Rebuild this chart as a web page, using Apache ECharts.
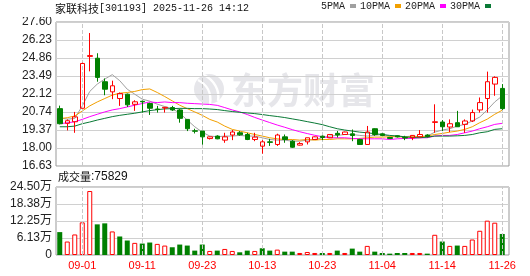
<!DOCTYPE html>
<html><head><meta charset="utf-8">
<script src="https://cdn.jsdelivr.net/npm/echarts@6/dist/echarts.min.js"></script>
<style>html,body{margin:0;padding:0;background:#fff}#c{width:530px;height:276px}</style>
</head><body><div id="c"></div>
<script>
const stockName = '家联科技';
const stockCode = '301193';
const stamp = '2025-11-26 14:12';
const lastVolText = '75829';

const dates = ['08-27','08-28','08-29','09-01','09-02','09-03','09-04','09-05','09-08','09-09','09-10','09-11',
 '09-12','09-15','09-16','09-17','09-18','09-19','09-22','09-23','09-24','09-25','09-26','09-29',
 '09-30','10-09','10-10','10-13','10-14','10-15','10-16','10-17','10-20','10-21','10-22','10-23',
 '10-24','10-27','10-28','10-29','10-30','10-31','11-03','11-04','11-05','11-06','11-07','11-10',
 '11-11','11-12','11-13','11-14','11-17','11-18','11-19','11-20','11-21','11-24','11-25','11-26'];

const opens = [21.00,19.88,20.00,21.03,24.98,24.84,23.05,22.28,21.77,22.10,21.33,21.56,
 21.39,20.97,21.05,21.08,20.90,20.18,19.31,19.29,18.72,18.91,18.60,18.99,
 19.16,19.03,18.65,18.14,18.47,18.27,18.85,18.52,18.22,18.47,18.65,18.90,
 18.78,19.12,19.03,19.08,18.65,18.27,19.47,19.08,18.80,18.93,18.80,18.78,
 18.85,18.99,19.95,19.98,19.60,19.93,19.80,20.06,20.90,21.77,22.87,22.54];
const closes = [19.85,20.08,20.37,24.44,25.04,23.38,22.48,22.74,22.15,21.29,21.52,21.52,
 21.03,20.93,21.10,20.90,20.26,19.47,19.28,18.85,18.85,18.70,18.85,19.22,
 19.01,18.65,18.83,18.47,18.43,18.99,18.65,18.06,18.34,18.78,18.85,18.80,
 19.03,19.00,19.22,18.95,18.27,19.22,19.03,18.95,18.73,18.85,18.76,18.96,
 19.03,18.87,20.00,19.62,19.85,19.62,20.06,20.70,21.46,23.05,23.38,21.00];
const lows = [19.80,19.34,19.16,21.03,23.84,23.05,22.02,21.72,21.21,21.13,20.83,20.70,
 20.52,20.70,20.70,20.83,19.93,19.29,19.11,18.26,18.65,18.67,18.40,18.60,
 18.93,18.60,18.52,17.57,18.16,18.16,18.40,18.01,18.19,18.27,18.65,18.60,
 18.75,18.80,19.00,18.52,18.25,18.25,18.93,18.90,18.68,18.80,18.60,18.60,
 18.83,18.80,19.16,19.29,19.21,19.62,19.16,19.98,20.70,20.70,21.98,20.90];
const highs = [21.23,20.18,20.75,24.50,26.76,25.22,23.30,23.13,22.23,22.15,21.64,21.62,
 21.46,21.21,21.13,21.21,21.00,20.18,19.47,19.29,18.87,18.97,19.16,19.37,
 19.29,19.16,19.16,18.60,18.70,19.09,19.03,18.60,18.45,18.78,18.88,18.95,
 19.05,19.30,19.25,19.41,18.70,19.68,19.50,19.12,18.85,18.96,18.93,18.98,
 19.37,19.05,21.33,20.13,20.18,20.83,20.18,20.93,21.85,23.82,23.46,22.87];

const ma5 = [20.30,20.20,20.25,21.20,22.31,22.87,23.25,23.59,23.13,22.48,22.10,21.72,
 21.57,21.34,21.16,21.00,20.65,20.13,19.62,19.21,18.91,18.86,18.91,18.91,
 18.96,18.91,18.91,18.78,18.65,18.60,18.60,18.52,18.52,18.60,18.65,18.78,
 18.91,18.96,19.03,19.03,18.96,18.91,18.96,19.03,18.91,18.91,18.86,18.91,
 18.86,18.91,19.21,19.37,19.47,19.67,19.80,20.06,20.36,20.90,21.51,21.97];
const ma10 = [20.24,20.31,20.44,20.82,21.21,21.51,21.77,22.03,22.18,22.23,22.31,22.45,
 22.50,22.23,21.92,21.59,21.26,21.00,20.75,20.49,20.18,19.98,19.67,19.42,
 19.29,19.16,19.03,18.91,18.78,18.70,18.65,18.65,18.60,18.65,18.60,18.65,
 18.65,18.70,18.70,18.70,18.73,18.78,18.83,18.83,18.86,18.86,18.83,18.86,
 18.86,18.91,19.03,19.11,19.21,19.29,19.42,19.62,19.93,20.20,20.57,20.88];
const ma20 = [19.85,19.92,20.00,20.18,20.39,20.57,20.75,20.90,21.00,21.13,21.26,21.39,
 21.51,21.46,21.51,21.46,21.46,21.41,21.38,21.35,21.32,21.25,21.08,20.90,
 20.75,20.55,20.33,20.13,19.94,19.75,19.58,19.40,19.24,19.10,18.97,18.86,
 18.78,18.78,18.78,18.73,18.70,18.70,18.70,18.70,18.65,18.70,18.73,18.73,
 18.78,18.78,18.91,18.96,18.96,19.03,19.16,19.29,19.47,19.62,19.80,19.88];
const ma30 = [19.62,19.62,19.67,19.85,19.98,20.13,20.26,20.39,20.49,20.57,20.65,20.75,
 20.85,20.92,20.98,21.00,21.02,21.02,21.00,21.00,20.97,20.93,20.85,20.78,
 20.72,20.67,20.62,20.55,20.47,20.40,20.32,20.22,20.12,20.01,19.90,19.78,
 19.62,19.47,19.37,19.29,19.21,19.16,19.09,19.03,18.96,18.91,18.86,18.80,
 18.78,18.83,18.91,18.91,18.91,18.93,18.96,19.03,19.16,19.24,19.42,19.47];

// volume in 万
const volumes = [8.25,4.85,7.40,11.77,23.05,11.04,11.40,8.49,6.67,5.22,4.37,4.12,
 4.49,4.00,3.40,2.79,3.76,3.40,1.58,3.76,1.46,1.58,2.18,1.46,
 0.97,1.58,1.46,2.43,1.58,1.94,1.21,1.21,0.73,1.09,0.73,0.73,
 0.73,1.58,0.73,2.30,1.21,3.28,1.21,0.73,0.49,0.73,0.73,0.73,
 0.73,0.49,7.28,4.85,3.28,3.40,3.28,5.58,8.73,12.37,11.64,7.58];
const volDir = [-1,1,1,1,1,-1,-1,1,-1,-1,1,-1,
 -1,1,1,-1,-1,-1,-1,-1,1,-1,1,1,
 -1,-1,1,-1,-1,1,-1,-1,1,1,1,-1,
 1,-1,1,-1,-1,1,-1,-1,-1,-1,-1,1,
 1,-1,1,-1,1,-1,1,1,1,1,1,-1];

const priceTicks = ['16.63','18.00','19.37','20.74','22.12','23.49','24.86','26.23','27.60'];
const priceMin = 16.63, priceMax = 27.60;
const volTicks = ['0','6.13万','12.25万','18.38万','24.50万'];
const volMax = 24.5;
const labelDates = ['09-01','09-11','09-23','10-13','10-23','11-04','11-14','11-26'];
const maNames = ['5PMA','10PMA','20PMA','30PMA'];

const RED = '#ff0000', GREEN = '#008000';
const SANS = "'Liberation Sans','Noto Sans CJK SC',sans-serif";
const MONO = "'Liberation Mono','Noto Sans CJK SC',monospace";
const CJK = "'Noto Sans CJK SC',sans-serif";

const chart = echarts.init(document.getElementById('c'), null, {renderer: 'canvas'});

const dashLines = {
  silent: true, symbol: ['none','none'], label: {show: false},
  lineStyle: {type: 'dashed', color: '#c8c8c8', width: 1},
  emphasis: {disabled: true},
  data: labelDates.map(d => ({xAxis: d}))
};

const maColors = ['#a0a0a0', '#f2a000', '#ff00ff', '#0a7a36'];
const maData = [ma5, ma10, ma20, ma30];

const option = {
  animation: false,
  backgroundColor: '#fff',
  legend: {
    left: 321, top: 1, align: 'right', icon: 'rect', itemWidth: 6, itemHeight: 4, itemGap: 4,
    padding: 0, selectedMode: false,
    textStyle: {fontSize: 10, fontFamily: MONO, color: '#222'},
    data: maNames
  },
  grid: [
    {left: 56, top: 22, width: 453, height: 144, show: true, borderColor: '#999', borderWidth: 1},
    {left: 56, top: 22, width: 450, height: 144},
    {left: 56, top: 187, width: 453, height: 68, show: true, borderColor: '#999', borderWidth: 1},
    {left: 56, top: 187, width: 450, height: 68}
  ],
  xAxis: [
    {gridIndex: 0, type: 'value', min: 0, max: 1, show: false},
    {gridIndex: 1, type: 'category', data: dates, boundaryGap: true,
      axisLine: {show: false}, axisTick: {show: false}, axisLabel: {show: false}, splitLine: {show: false}},
    {gridIndex: 2, type: 'value', min: 0, max: 1, show: false},
    {gridIndex: 3, type: 'category', data: dates, boundaryGap: true,
      axisLine: {show: false}, axisTick: {show: false}, splitLine: {show: false},
      axisLabel: {show: true, interval: (i, v) => labelDates.indexOf(v) >= 0, color: RED,
        fontSize: 11, fontFamily: SANS, margin: 5, hideOverlap: false}}
  ],
  yAxis: [
    {gridIndex: 0, type: 'value', min: 0, max: priceTicks.length - 1, interval: 1,
      axisLine: {show: false}, axisTick: {show: false},
      axisLabel: {formatter: v => priceTicks[Math.round(v)], color: '#222', fontSize: 12, fontFamily: SANS, margin: 4},
      splitLine: {show: true, lineStyle: {color: '#d0d0d0', width: 1}}},
    {gridIndex: 1, type: 'value', min: priceMin, max: priceMax, show: false, splitLine: {show: false}},
    {gridIndex: 2, type: 'value', min: 0, max: volTicks.length - 1, interval: 1,
      axisLine: {show: false}, axisTick: {show: false},
      axisLabel: {formatter: v => volTicks[Math.round(v)], color: '#222', fontSize: 12, fontFamily: SANS, margin: 4},
      splitLine: {show: true, lineStyle: {color: '#d0d0d0', width: 1}}},
    {gridIndex: 3, type: 'value', min: 0, max: volMax, show: false, splitLine: {show: false}}
  ],
  graphic: [
    {type: 'rect', left: 0, top: 0, shape: {width: 55, height: 17}, style: {fill: '#fff'}, z: 100, silent: true},
    {type: 'text', left: 55, top: 3, z: 101, silent: true,
      style: {text: '{a|' + stockName + '}{b|[' + stockCode + '] ' + stamp + '}', fill: '#111',
        rich: {a: {fontSize: 11, fontFamily: CJK, fill: '#111'}, b: {fontSize: 10, fontFamily: MONO, fill: '#111'}}}},
    {type: 'text', left: 58, top: 171, z: 101, silent: true,
      style: {text: '{a|成交量}{b|:' + lastVolText + '}', fill: '#111',
        rich: {a: {fontSize: 11, fontFamily: CJK, fill: '#111'}, b: {fontSize: 12, fontFamily: SANS, fill: '#111'}}}},
    {type: 'group', z: 1, silent: true, children: [
      {type: 'circle', shape: {cx: 209, cy: 89, r: 15}, style: {fill: '#e6e6ea'}},
      {type: 'bezierCurve', shape: {x1: 198, y1: 80, cpx1: 206, cpy1: 84, cpx2: 212, cpy2: 92, x2: 210, y2: 104},
        style: {stroke: '#fff', lineWidth: 2.5, fill: null}},
      {type: 'bezierCurve', shape: {x1: 204, y1: 75, cpx1: 214, cpy1: 80, cpx2: 220, cpy2: 90, x2: 218, y2: 101},
        style: {stroke: '#fff', lineWidth: 2.5, fill: null}},
      {type: 'text', x: 231, y: 72, style: {text: '东方财富', fontSize: 36, fontWeight: 'bold', fontFamily: CJK, fill: '#e6e6ea'}}
    ]}
  ],
  series: [
    {type: 'candlestick', xAxisIndex: 1, yAxisIndex: 1, barWidth: 5, z: 5,
      data: dates.map((d, i) => [opens[i], closes[i], lows[i], highs[i]]),
      itemStyle: {color: 'rgba(255,255,255,0)', color0: GREEN, borderColor: RED, borderColor0: GREEN, borderWidth: 1},
      markLine: dashLines},
    ...maNames.map((n, k) => ({
      name: n, type: 'line', xAxisIndex: 1, yAxisIndex: 1, data: maData[k], showSymbol: false, symbol: 'none',
      z: 4, lineStyle: {width: 1, color: maColors[k]}, itemStyle: {color: maColors[k]}
    })),
    {type: 'bar', xAxisIndex: 3, yAxisIndex: 3, barWidth: 5,
      data: volumes.map((v, i) => ({value: v, itemStyle: volDir[i] > 0
        ? {color: '#fff', borderColor: RED, borderWidth: 1}
        : {color: GREEN, borderColor: GREEN, borderWidth: 0}})),
      markLine: dashLines}
  ]
};
chart.setOption(option);
</script></body></html>
